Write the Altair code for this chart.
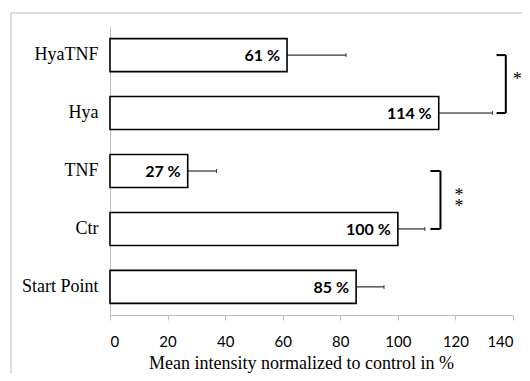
import altair as alt
import pandas as pd

categories = ["HyaTNF", "Hya", "TNF", "Ctr", "Start Point"]
means = [61.5, 114.2, 27, 100, 85.5]
err_high = [82, 132.9, 37, 109.4, 95.2]
labels = ["61 %", "114 %", "27 %", "100 %", "85 %"]

# significance brackets
br_from = ["HyaTNF", "TNF"]
br_to = ["Hya", "Ctr"]
br_x = [137.5, 114.8]
br_left = [134.3, 111.3]
star_x = [141.5, 121.2]
star_text = [["*"], ["*", "*"]]

x_ticks = [0, 20, 40, 60, 80, 100, 120, 140]

df = pd.DataFrame({"cat": categories, "mean": means, "hi": err_high, "label": labels})
rows = []
for a, b, x, l in zip(br_from, br_to, br_x, br_left):
    rows.append({"y": a, "y2": b, "x": x, "xl": l})
br = pd.DataFrame(rows)
br_ticks = pd.DataFrame(
    [{"y": a, "x": x, "xl": l} for a, x, l in zip(br_from, br_x, br_left)]
    + [{"y": b, "x": x, "xl": l} for b, x, l in zip(br_to, br_x, br_left)]
)
stars = pd.DataFrame({"y": br_from, "x": star_x, "t": star_text})

yscale = alt.Scale(domain=categories, paddingInner=0.43, paddingOuter=0.2)
xscale = alt.Scale(domain=[0, 140], nice=False)

Y = alt.Y("cat:N", scale=yscale, sort=categories,
          axis=alt.Axis(title=None, ticks=False, domainColor="#bfbfbf", domainWidth=1,
                        labelFont="Liberation Serif", labelFontSize=18, labelColor="black",
                        labelPadding=12))
X = alt.X("mean:Q", scale=xscale,
          axis=alt.Axis(values=x_ticks, grid=False, title="Mean intensity normalized to control in %",
                        domainColor="#bfbfbf", tickColor="#bfbfbf", tickSize=5,
                        labelFont="Lato", labelFontSize=15, labelColor="black",
                        labelBaseline="alphabetic", labelPadding=26,
                        titleFont="Liberation Serif", titleFontSize=18, titleFontWeight="normal",
                        titleColor="black", titleBaseline="alphabetic", titleX=191, titleY=53,
                        titleAnchor="middle", titleAlign="center"))

bars = alt.Chart(df).mark_bar(fill="white", stroke="black", strokeWidth=1.6).encode(x=X, y=Y)

errs = alt.Chart(df).mark_rule(color="black", strokeWidth=1).encode(
    x=alt.X("mean:Q", scale=xscale), x2="hi:Q", y=alt.Y("cat:N", scale=yscale, sort=categories))
caps = alt.Chart(df).mark_tick(color="black", thickness=1, size=4, orient="vertical").encode(
    x=alt.X("hi:Q", scale=xscale), y=alt.Y("cat:N", scale=yscale, sort=categories))

texts = alt.Chart(df).mark_text(align="right", baseline="middle", dx=-7, dy=1,
                                font="Lato", fontWeight="bold", fontSize=16, color="black").encode(
    x=alt.X("mean:Q", scale=xscale), y=alt.Y("cat:N", scale=yscale, sort=categories), text="label:N")

vbr = alt.Chart(br).mark_rule(color="black", strokeWidth=2).encode(
    x=alt.X("x:Q", scale=xscale), y=alt.Y("y:N", scale=yscale, sort=categories), y2="y2:N")
hbr = alt.Chart(br_ticks).mark_rule(color="black", strokeWidth=2).encode(
    x=alt.X("xl:Q", scale=xscale), x2="x:Q", y=alt.Y("y:N", scale=yscale, sort=categories))
st = alt.Chart(stars).mark_text(font="Liberation Serif", fontSize=18, color="black",
                                baseline="middle", align="center", dy=25, lineHeight=11).encode(
    x=alt.X("x:Q", scale=xscale), y=alt.Y("y:N", scale=yscale, sort=categories), text="t")

frame_v = alt.Chart(alt.Data(values=[{}])).mark_rule(color="#d0d0d0", strokeWidth=1.5).encode(
    x=alt.value(-99), y=alt.value(-14), y2=alt.value(420))
frame_h = alt.Chart(alt.Data(values=[{}])).mark_rule(color="#d0d0d0", strokeWidth=1.5).encode(
    x=alt.value(-99), x2=alt.value(500), y=alt.value(-14))

chart = alt.layer(frame_v, frame_h, bars, errs, caps, texts, vbr, hbr, st).properties(
    width=403, height=288,
    padding={"left": 102, "top": 19, "right": 9, "bottom": 58},
    autosize="none",
    background="white",
).configure_view(stroke=None)

chart.save("out.html", embed_options={"renderer": "svg", "actions": False})
